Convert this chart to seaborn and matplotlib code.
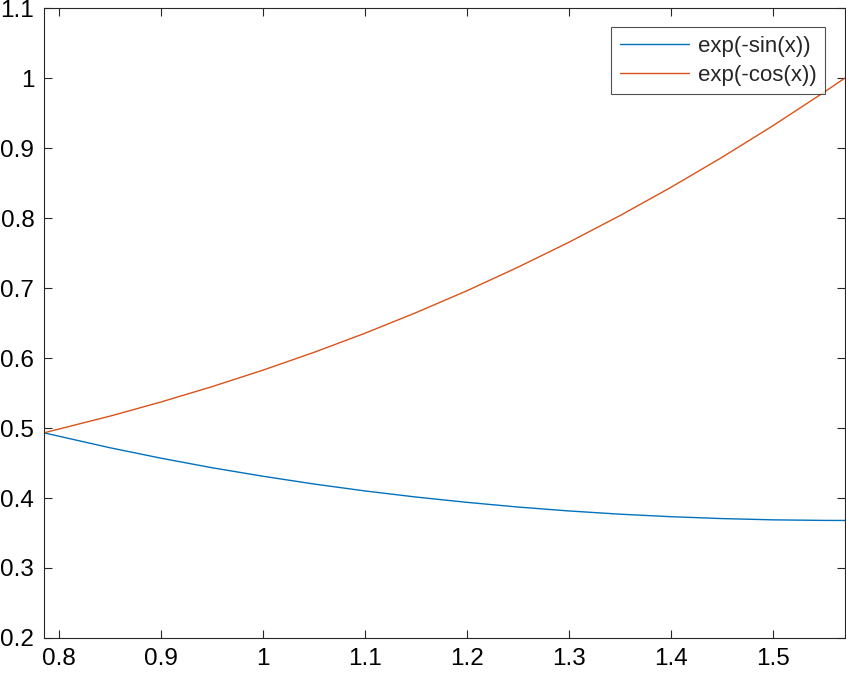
import numpy as np
import pandas as pd
import matplotlib
matplotlib.use("Agg")
import matplotlib.pyplot as plt
import seaborn as sns
from matplotlib.ticker import FuncFormatter

# values
x_vals = [0.7854, 0.85, 0.90, 0.95, 1.00, 1.05, 1.10, 1.15, 1.20,
          1.25, 1.30, 1.35, 1.40, 1.45, 1.50, 1.55, 1.5708]
sin_vals = [0.4931, 0.4718, 0.4569, 0.4433, 0.4311, 0.4200, 0.4101, 0.4014, 0.3938,
            0.3871, 0.3815, 0.3769, 0.3733, 0.3706, 0.3688, 0.3680, 0.3679]
cos_vals = [0.4931, 0.5169, 0.5371, 0.5590, 0.5826, 0.6080, 0.6353, 0.6647, 0.6960,
            0.7296, 0.7653, 0.8033, 0.8437, 0.8865, 0.9317, 0.9794, 1.0000]
labels = ["exp(-sin(x))", "exp(-cos(x))"]
x_ticks = [0.8, 0.9, 1.0, 1.1, 1.2, 1.3, 1.4, 1.5]
y_ticks = [0.2, 0.3, 0.4, 0.5, 0.6, 0.7, 0.8, 0.9, 1.0, 1.1]

df = pd.DataFrame({
    "x": x_vals * 2,
    "y": sin_vals + cos_vals,
    "curve": [labels[0]] * len(x_vals) + [labels[1]] * len(x_vals),
})

sns.set_theme(style="white")
plt.rcParams["font.family"] = ["Liberation Sans", "DejaVu Sans"]

fig = plt.figure(figsize=(8.46, 6.74), dpi=100)
ax = fig.add_axes([44 / 846, 1 - 638 / 674, 801 / 846, 630 / 674])

sns.lineplot(data=df, x="x", y="y", hue="curve", palette=["#0072BD", "#D95319"],
             linewidth=1.0, ax=ax)

ax.set_xlim(np.pi / 4, np.pi / 2)
ax.set_ylim(0.2, 1.1)
ax.set_xticks(x_ticks)
ax.set_yticks(y_ticks)
fmt = FuncFormatter(lambda v, p: "{:g}".format(round(v, 3)))
ax.xaxis.set_major_formatter(fmt)
ax.yaxis.set_major_formatter(fmt)
ax.set_xlabel("")
ax.set_ylabel("")
ax.tick_params(direction="in", length=5.5, width=0.8, colors="#262626",
               labelcolor="black", labelsize=17.5, pad=7,
               top=True, right=True, bottom=True, left=True)
for s in ax.spines.values():
    s.set_color("#262626")
    s.set_linewidth(0.8)

leg = ax.legend(loc="upper right", bbox_to_anchor=(0.9755, 0.97), fontsize=16,
                frameon=True, fancybox=False, handlelength=3.1, borderpad=0.4,
                labelspacing=0.35, handletextpad=0.4, borderaxespad=0)
leg.get_frame().set_edgecolor("#262626")
leg.get_frame().set_linewidth(0.8)

fig.savefig("out.png", dpi=100)
